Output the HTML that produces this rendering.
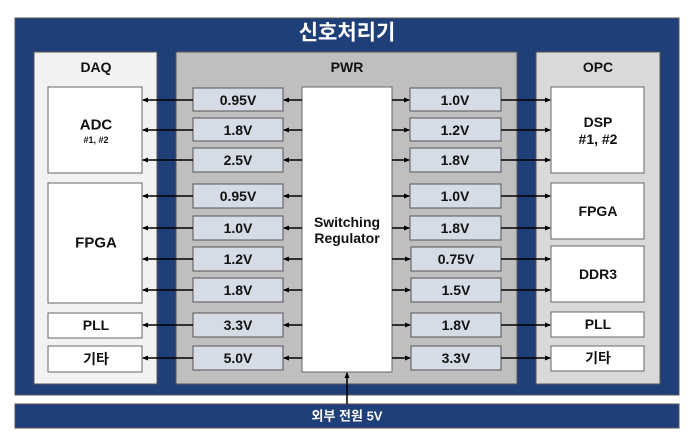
<!DOCTYPE html>
<html><head><meta charset="utf-8"><style>
html,body{margin:0;padding:0;background:#fff;}
svg{display:block;}
text{font-family:"Liberation Sans","Noto Sans CJK KR",sans-serif;font-weight:bold;fill:#111;text-anchor:middle;dominant-baseline:central;}
</style></head><body>
<svg width="694" height="447" viewBox="0 0 694 447" xmlns="http://www.w3.org/2000/svg">
<defs>
<marker id="a" markerWidth="6" markerHeight="6" refX="5" refY="3" orient="auto" markerUnits="userSpaceOnUse"><path d="M0,0.5 L6,3 L0,5.5 z" fill="#000"/></marker>
</defs>
<rect x="15" y="18" width="664" height="377" fill="#1f3f79" stroke="#555"/>
<rect x="15" y="404" width="664" height="24" fill="#1f3f79" stroke="#555"/>
<text x="347" y="33" font-size="21" style="fill:#fff">신호처리기</text>
<text x="347" y="416" font-size="13" style="fill:#fff">외부 전원 5V</text>
<rect x="34" y="52" width="123" height="332" fill="#f2f2f2" stroke="#555"/>
<rect x="176" y="52" width="341" height="332" fill="#bfbfbf" stroke="#555"/>
<rect x="536" y="52" width="124" height="332" fill="#d9d9d9" stroke="#555"/>
<text x="96" y="67" font-size="14">DAQ</text>
<text x="347" y="67" font-size="14">PWR</text>
<text x="598" y="67" font-size="14">OPC</text>
<g fill="#fff" stroke="#666">
<rect x="48" y="87" width="94" height="86"/>
<rect x="48" y="183" width="94" height="120"/>
<rect x="48" y="313" width="94" height="25"/>
<rect x="48" y="346" width="94" height="26"/>
<rect x="551" y="87" width="93" height="86"/>
<rect x="551" y="183" width="93" height="56"/>
<rect x="551" y="246" width="93" height="56"/>
<rect x="551" y="312" width="93" height="25"/>
<rect x="551" y="346" width="93" height="25"/>
<rect x="302" y="87" width="90" height="285"/>
</g>
<text x="96" y="125" font-size="15">ADC</text>
<text x="96" y="140" font-size="9">#1, #2</text>
<text x="96" y="243" font-size="15">FPGA</text>
<text x="96" y="325" font-size="14">PLL</text>
<text x="96" y="359" font-size="14">기타</text>
<text x="598" y="122" font-size="14">DSP</text>
<text x="598" y="139" font-size="14">#1, #2</text>
<text x="598" y="211" font-size="14">FPGA</text>
<text x="598" y="274" font-size="14">DDR3</text>
<text x="598" y="324" font-size="14">PLL</text>
<text x="598" y="358" font-size="14">기타</text>
<text x="347" y="222" font-size="14">Switching</text>
<text x="347" y="238" font-size="14">Regulator</text>
<g fill="#d6dce6" stroke="#555">
<rect x="193" y="88" width="90" height="23"/>
<rect x="193" y="118" width="90" height="23"/>
<rect x="193" y="148" width="90" height="24"/>
<rect x="193" y="184" width="90" height="24"/>
<rect x="193" y="216" width="90" height="24"/>
<rect x="193" y="247" width="90" height="24"/>
<rect x="193" y="278" width="90" height="24"/>
<rect x="193" y="313" width="90" height="24"/>
<rect x="193" y="346" width="90" height="24"/>
<rect x="410" y="88" width="91" height="23"/>
<rect x="410" y="118" width="91" height="23"/>
<rect x="410" y="148" width="91" height="24"/>
<rect x="410" y="184" width="91" height="24"/>
<rect x="410" y="216" width="91" height="24"/>
<rect x="411" y="247" width="90" height="24"/>
<rect x="411" y="278" width="90" height="24"/>
<rect x="411" y="313" width="90" height="24"/>
<rect x="411" y="346" width="90" height="24"/>
</g>
<g font-size="14">
<text x="238" y="100">0.95V</text><text x="238" y="130">1.8V</text><text x="238" y="160">2.5V</text>
<text x="238" y="196">0.95V</text><text x="238" y="228">1.0V</text><text x="238" y="259">1.2V</text>
<text x="238" y="290">1.8V</text><text x="238" y="325">3.3V</text><text x="238" y="358">5.0V</text>
<text x="455" y="100">1.0V</text><text x="455" y="130">1.2V</text><text x="455" y="160">1.8V</text>
<text x="455" y="196">1.0V</text><text x="455" y="228">1.8V</text><text x="456" y="259">0.75V</text>
<text x="456" y="290">1.5V</text><text x="456" y="325">1.8V</text><text x="456" y="358">3.3V</text>
</g>
<g stroke="#000" stroke-width="1.5" marker-end="url(#a)">
<path d="M302,100H284"/><path d="M193,100H143"/>
<path d="M302,130H284"/><path d="M193,130H143"/>
<path d="M302,160H284"/><path d="M193,160H143"/>
<path d="M302,196H284"/><path d="M193,196H143"/>
<path d="M302,228H284"/><path d="M193,228H143"/>
<path d="M302,259H284"/><path d="M193,259H143"/>
<path d="M302,290H284"/><path d="M193,290H143"/>
<path d="M302,325H284"/><path d="M193,325H143"/>
<path d="M302,358H284"/><path d="M193,358H143"/>
<path d="M392,100H409"/><path d="M501,100H550"/>
<path d="M392,130H409"/><path d="M501,130H550"/>
<path d="M392,160H409"/><path d="M501,160H550"/>
<path d="M392,196H409"/><path d="M501,196H550"/>
<path d="M392,228H409"/><path d="M501,228H550"/>
<path d="M392,259H410"/><path d="M501,259H550"/>
<path d="M392,290H410"/><path d="M501,290H550"/>
<path d="M392,325H410"/><path d="M501,325H550"/>
<path d="M392,358H410"/><path d="M501,358H550"/>
<path d="M347,404V373"/>
</g>
</svg>
</body></html>
